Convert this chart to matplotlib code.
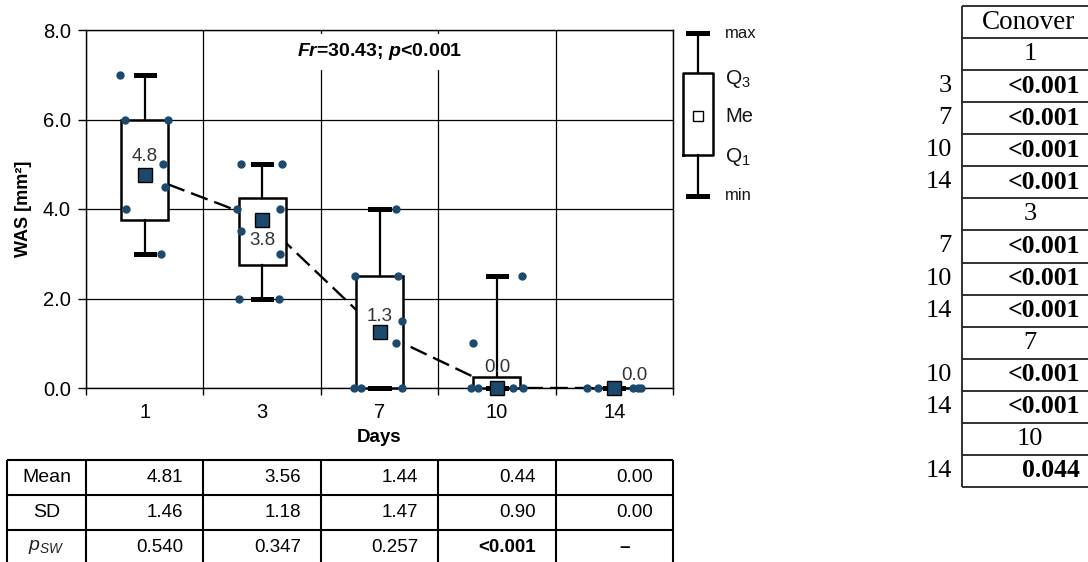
import numpy as np
import matplotlib
matplotlib.use('Agg')
import matplotlib.pyplot as plt

plt.rcParams['font.family'] = ['Liberation Sans', 'DejaVu Sans']
plt.rcParams['mathtext.fontset'] = 'custom'
plt.rcParams['mathtext.rm'] = 'Liberation Sans'
plt.rcParams['mathtext.it'] = 'Liberation Sans:italic'
plt.rcParams['mathtext.bf'] = 'Liberation Sans:bold'
plt.rcParams['mathtext.sf'] = 'Liberation Sans:bold:italic'

# ---- data ----
days = ['1', '3', '7', '10', '14']
wmin = [3.0, 2.0, 0.0, 0.0, 0.0]
q1 = [3.75, 2.75, 0.0, 0.0, 0.0]
med = [4.75, 3.75, 1.25, 0.0, 0.0]
q3 = [6.0, 4.25, 2.5, 0.25, 0.0]
wmax = [7.0, 5.0, 4.0, 2.5, 0.0]
med_lbl = ['4.8', '3.8', '1.3', '0.0', '0.0']

pts1 = [7.0, 6.0, 6.0, 5.0, 4.5, 4.0, 3.0]
pts3 = [5.0, 5.0, 4.0, 4.0, 3.5, 3.0, 2.0, 2.0]
pts7 = [4.0, 2.5, 2.5, 1.5, 1.0, 0.0, 0.0, 0.0]
pts10 = [2.5, 1.0, 0.0, 0.0, 0.0, 0.0]
pts14 = [0.0, 0.0, 0.0, 0.0, 0.0]

mean_vals = ['4.81', '3.56', '1.44', '0.44', '0.00']
sd_vals = ['1.46', '1.18', '1.47', '0.90', '0.00']
psw_vals = ['0.540', '0.347', '0.257', '<0.001', '\u2013']
row_names = ['Mean', 'SD', r'$p_{SW}$']

fr_text = r'$\mathsf{Fr}$=30.43; $\mathsf{p}$<0.001'

con_ref = ['1', '3', '7', '10']
con_cmp = [['3', '7', '10', '14'], ['7', '10', '14'], ['10', '14'], ['14']]
con_p = [['<0.001', '<0.001', '<0.001', '<0.001'],
         ['<0.001', '<0.001', '<0.001'],
         ['<0.001', '<0.001'],
         ['0.044']]

# ---- styling (jitter of points, label offsets) ----
jit = [[-0.21, -0.17, 0.20, 0.16, 0.17, -0.16, 0.14],
       [-0.18, 0.17, -0.21, 0.15, -0.18, 0.15, -0.20, 0.14],
       [0.14, -0.21, 0.155, 0.19, 0.14, -0.22, -0.16, 0.19],
       [0.21, -0.20, -0.22, -0.16, 0.14, 0.22],
       [-0.23, -0.14, 0.16, 0.20, 0.23]]
lbl_dx = [0, 0, 0, 0, 0.17]
lbl_dy = [0.43, -0.45, 0.34, 0.45, 0.29]
navy = '#1b4a6e'

W, H = 1088., 562.
fig = plt.figure(figsize=(W / 100, H / 100), dpi=100, facecolor='w')

# ---- main box plot ----
ax = fig.add_axes([86 / W, 1 - 388 / H, 587 / W, 358 / H])
xx = np.arange(len(days))
stats = [dict(whislo=a, q1=b, med=c, q3=d, whishi=e)
         for a, b, c, d, e in zip(wmin, q1, med, q3, wmax)]
bp = ax.bxp(stats, positions=xx, widths=0.4, capwidths=0.155, showfliers=False,
            patch_artist=True, manage_ticks=False, zorder=3,
            boxprops=dict(facecolor='w', edgecolor='k', linewidth=1.8),
            whiskerprops=dict(color='k', linewidth=1.6),
            capprops=dict(color='k', linewidth=3.6),
            medianprops=dict(visible=False))
for key in bp:
    for art in bp[key]:
        art.set_clip_on(False)

ax.plot(xx, med, color='k', lw=1.7, dashes=(7.5, 3), zorder=2.5)

for i, (vals, jj) in enumerate(zip([pts1, pts3, pts7, pts10, pts14], jit)):
    ax.plot(i + np.array(jj), vals, 'o', ms=5, color=navy, zorder=4, clip_on=False)

ax.plot(xx, med, 's', ms=10, mfc=navy, mec='k', mew=1, zorder=5, clip_on=False)
for i in xx:
    ax.text(i + lbl_dx[i], med[i] + lbl_dy[i], med_lbl[i], ha='center', va='center',
            fontsize=13.5, color='#333333', zorder=6)

ax.text(2.0, 7.51, fr_text, ha='center', va='center', fontsize=14, fontweight='bold',
        zorder=7, bbox=dict(boxstyle='square,pad=0.4', fc='w', ec='none'))

ax.set_xlim(-0.5, 4.5)
ax.set_ylim(0, 8)
ax.set_xticks(xx)
ax.set_xticklabels(days)
ax.set_xticks(np.arange(-0.5, 5), minor=True)
ax.set_yticks(np.arange(0, 8.1, 2))
ax.yaxis.set_major_formatter('{x:.1f}')
ax.tick_params(axis='x', which='major', length=0, pad=11, labelsize=14.5)
ax.tick_params(axis='x', which='minor', length=5, width=1, direction='out')
ax.tick_params(axis='y', length=6, width=1, pad=5, labelsize=14.5)
ax.set_axisbelow(True)
ax.grid(True, which='minor', axis='x', color='k', lw=0.9)
ax.grid(True, which='major', axis='y', color='k', lw=0.9)
for sp in ax.spines.values():
    sp.set_linewidth(1)
ax.set_xlabel('Days', fontweight='bold', fontsize=13.5, labelpad=5)
ax.set_ylabel('WAS [mm\u00b2]', fontweight='bold', fontsize=13, labelpad=8)

# ---- legend glyph ----
axl = fig.add_axes([670 / W, 1 - 210 / H, 110 / W, 190 / H])
axl.set_xlim(670, 780)
axl.set_ylim(210, 20)
axl.axis('off')
axl.bxp([dict(whislo=196, q1=155, med=116, q3=73, whishi=33)], positions=[697.5],
        widths=30, capwidths=19, showfliers=False, manage_ticks=False,
        boxprops=dict(color='k', linewidth=1.8),
        whiskerprops=dict(color='k', linewidth=1.6),
        capprops=dict(color='k', linewidth=3.6),
        medianprops=dict(visible=False))
axl.plot([698], [116], 's', ms=6.5, mfc='w', mec='k', mew=1)
for txt, y, fs in [('max', 33, 12), ('Q$_3$', 79, 15), ('Me', 116, 14.5),
                   ('Q$_1$', 157, 15), ('min', 196, 12)]:
    axl.text(725, y, txt, ha='left', va='center', fontsize=fs, color='#151515')

# ---- stats table below ----
left_edge = -0.5 - (86 - 7) / 117.4
axt = fig.add_axes([7 / W, 1 - 565 / H, 666 / W, 105 / H])
axt.set_xlim(left_edge, 4.5)
axt.set_ylim(3, 0)
axt.axis('off')
axt.hlines(range(4), left_edge, 4.5, color='k', lw=1.5, clip_on=False)
axt.vlines([left_edge] + list(np.arange(-0.5, 5)), 0, 3, color='k', lw=1.5, clip_on=False)
for r, (name, vals) in enumerate(zip(row_names, [mean_vals, sd_vals, psw_vals])):
    axt.text((left_edge - 0.5) / 2, r + 0.5, name, ha='center', va='center',
             fontsize=14, color='#222222' if r == 2 else 'k')
    for i, v in enumerate(vals):
        if v == '\u2013':
            axt.text(i + 0.09, r + 0.5, v, ha='center', va='center', fontsize=13.5, fontweight='bold')
        else:
            axt.text(i + 0.5 - 0.17, r + 0.5, v, ha='right', va='center', fontsize=13.5,
                     fontweight='bold' if v.startswith('<') else 'normal')

# ---- Conover post-hoc table ----
axc = fig.add_axes([962 / W, 1 - 487 / H, 136 / W, 481 / H])
axc.set_xlim(0, 1)
nrows = 1 + len(con_ref) + sum(len(c) for c in con_cmp)
axc.set_ylim(nrows, 0)
axc.axis('off')
axc.hlines(range(nrows + 1), 0, 1, color='#222222', lw=1.3, clip_on=False)
axc.vlines([0], 0, nrows, color='#222222', lw=1.3, clip_on=False)
serif = 'Liberation Serif'
axc.text(0.49, 0.5, 'Conover', ha='center', va='center', fontsize=19.5, family=serif)
r = 1
for ref, cmps, ps in zip(con_ref, con_cmp, con_p):
    axc.text(0.5, r + 0.5, ref, ha='center', va='center', fontsize=19, family=serif)
    r += 1
    for c, p in zip(cmps, ps):
        axc.text(-0.074, r + 0.5, c, ha='right', va='center', fontsize=19, family=serif)
        axc.text(0.87, r + 0.5, p, ha='right', va='center', fontsize=18.5,
                 fontweight='bold', family=serif)
        r += 1

fig.savefig('out.png', dpi=100, facecolor=fig.get_facecolor())
